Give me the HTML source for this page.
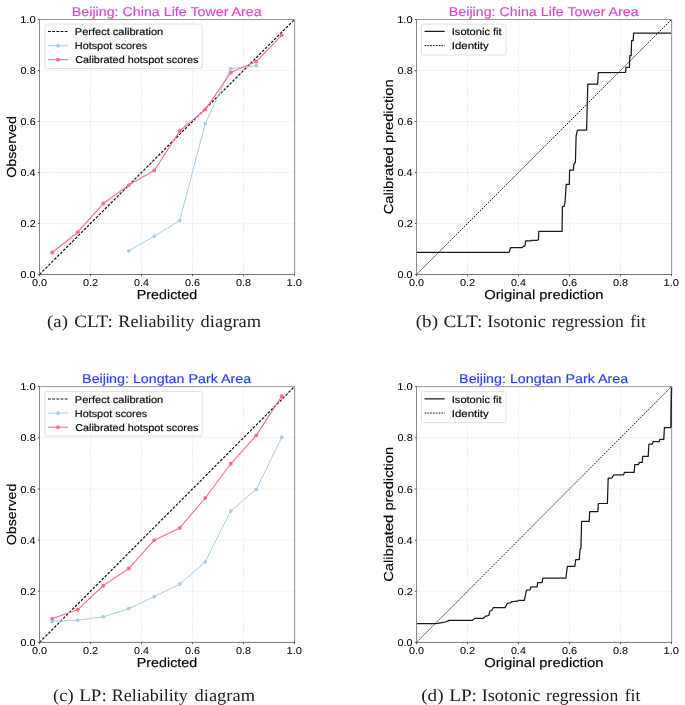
<!DOCTYPE html>
<html><head><meta charset="utf-8"><title>Calibration figure</title>
<style>html,body{margin:0;padding:0;background:#fff;width:685px;height:705px;overflow:hidden}svg{display:block}</style>
</head><body>
<svg width="685" height="705" viewBox="0 0 685 705" style="will-change:transform;text-rendering:geometricPrecision">
<rect width="685" height="705" fill="#fff"/>
<line x1="90.5" y1="19.5" x2="90.5" y2="274.5" stroke="#e4e4e4" stroke-width="0.8" stroke-dasharray="1.3,1.05"/>
<line x1="39.5" y1="223.5" x2="294.5" y2="223.5" stroke="#e4e4e4" stroke-width="0.8" stroke-dasharray="1.3,1.05"/>
<line x1="141.5" y1="19.5" x2="141.5" y2="274.5" stroke="#e4e4e4" stroke-width="0.8" stroke-dasharray="1.3,1.05"/>
<line x1="39.5" y1="172.5" x2="294.5" y2="172.5" stroke="#e4e4e4" stroke-width="0.8" stroke-dasharray="1.3,1.05"/>
<line x1="192.5" y1="19.5" x2="192.5" y2="274.5" stroke="#e4e4e4" stroke-width="0.8" stroke-dasharray="1.3,1.05"/>
<line x1="39.5" y1="121.5" x2="294.5" y2="121.5" stroke="#e4e4e4" stroke-width="0.8" stroke-dasharray="1.3,1.05"/>
<line x1="243.5" y1="19.5" x2="243.5" y2="274.5" stroke="#e4e4e4" stroke-width="0.8" stroke-dasharray="1.3,1.05"/>
<line x1="39.5" y1="70.5" x2="294.5" y2="70.5" stroke="#e4e4e4" stroke-width="0.8" stroke-dasharray="1.3,1.05"/>
<line x1="39.5" y1="274.5" x2="294.5" y2="19.5" stroke="#111" stroke-width="1.2" stroke-dasharray="2.7,1.5"/>
<polyline points="128.75,250.79 154.25,236.2 179.75,220.6 205.25,123.6 230.75,68.77 256.25,65.71" fill="none" stroke="#a5cde3" stroke-width="1" stroke-linejoin="round"/>
<circle cx="128.75" cy="250.79" r="1.9" fill="#a5cde3"/>
<circle cx="154.25" cy="236.2" r="1.9" fill="#a5cde3"/>
<circle cx="179.75" cy="220.6" r="1.9" fill="#a5cde3"/>
<circle cx="205.25" cy="123.6" r="1.9" fill="#a5cde3"/>
<circle cx="230.75" cy="68.77" r="1.9" fill="#a5cde3"/>
<circle cx="256.25" cy="65.71" r="1.9" fill="#a5cde3"/>
<polyline points="52.25,252.5 77.75,232.23 103.25,203.51 128.75,185.1 154.25,170.52 179.75,130.99 205.25,109.57 230.75,72.59 256.25,61.63 281.75,35.11" fill="none" stroke="#fb6b90" stroke-width="1.1" stroke-linejoin="round"/>
<circle cx="52.25" cy="252.5" r="1.95" fill="#fb6b90"/>
<circle cx="77.75" cy="232.23" r="1.95" fill="#fb6b90"/>
<circle cx="103.25" cy="203.51" r="1.95" fill="#fb6b90"/>
<circle cx="128.75" cy="185.1" r="1.95" fill="#fb6b90"/>
<circle cx="154.25" cy="170.52" r="1.95" fill="#fb6b90"/>
<circle cx="179.75" cy="130.99" r="1.95" fill="#fb6b90"/>
<circle cx="205.25" cy="109.57" r="1.95" fill="#fb6b90"/>
<circle cx="230.75" cy="72.59" r="1.95" fill="#fb6b90"/>
<circle cx="256.25" cy="61.63" r="1.95" fill="#fb6b90"/>
<circle cx="281.75" cy="35.11" r="1.95" fill="#fb6b90"/>
<rect x="44.9" y="24" width="157.2" height="44.6" rx="2" fill="#fff" fill-opacity="0.8" stroke="#d9d9d9" stroke-width="0.8"/>
<line x1="48" y1="31.5" x2="68.2" y2="31.5" stroke="#111" stroke-width="1.05" stroke-dasharray="2.8,1.4"/>
<line x1="48" y1="45.7" x2="68" y2="45.7" stroke="#a5cde3" stroke-width="1"/>
<circle cx="58" cy="45.7" r="1.9" fill="#a5cde3"/>
<line x1="48" y1="59.7" x2="68" y2="59.7" stroke="#fb6b90" stroke-width="1.1"/>
<circle cx="58" cy="59.7" r="1.95" fill="#fb6b90"/>
<text x="74.79" y="35.2" font-size="9.9" fill="#000" text-anchor="start" font-family='"Liberation Sans", sans-serif' textLength="88.42" lengthAdjust="spacingAndGlyphs" stroke="#000" stroke-width="0.15">Perfect calibration</text>
<text x="74.81" y="49.3" font-size="9.9" fill="#000" text-anchor="start" font-family='"Liberation Sans", sans-serif' textLength="72.38" lengthAdjust="spacingAndGlyphs" stroke="#000" stroke-width="0.15">Hotspot scores</text>
<text x="75.15" y="63.4" font-size="9.9" fill="#000" text-anchor="start" font-family='"Liberation Sans", sans-serif' textLength="123.24" lengthAdjust="spacingAndGlyphs" stroke="#000" stroke-width="0.15">Calibrated hotspot scores</text>
<line x1="39.5" y1="19" x2="39.5" y2="275" stroke="#888" stroke-width="1"/>
<line x1="294.6" y1="19" x2="294.6" y2="275" stroke="#999" stroke-width="1.1"/>
<line x1="39" y1="19.5" x2="295.1" y2="19.5" stroke="#999" stroke-width="1"/>
<line x1="39" y1="274.5" x2="295.1" y2="274.5" stroke="#777" stroke-width="1"/>
<line x1="39.5" y1="274.5" x2="39.5" y2="276.2" stroke="#333" stroke-width="0.8"/>
<line x1="37.8" y1="274.5" x2="39.5" y2="274.5" stroke="#333" stroke-width="0.8"/>
<text x="31.98" y="285.8" font-size="10" fill="#000" text-anchor="start" font-family='"Liberation Sans", sans-serif' textLength="15.05" lengthAdjust="spacingAndGlyphs" stroke="#000" stroke-width="0.05" text-rendering="geometricPrecision">0.0</text>
<text x="20.58" y="278.1" font-size="10" fill="#000" text-anchor="start" font-family='"Liberation Sans", sans-serif' textLength="15.05" lengthAdjust="spacingAndGlyphs" stroke="#000" stroke-width="0.05" text-rendering="geometricPrecision">0.0</text>
<line x1="90.5" y1="274.5" x2="90.5" y2="276.2" stroke="#333" stroke-width="0.8"/>
<line x1="37.8" y1="223.5" x2="39.5" y2="223.5" stroke="#333" stroke-width="0.8"/>
<text x="82.97" y="285.8" font-size="10" fill="#000" text-anchor="start" font-family='"Liberation Sans", sans-serif' textLength="15.18" lengthAdjust="spacingAndGlyphs" stroke="#000" stroke-width="0.05" text-rendering="geometricPrecision">0.2</text>
<text x="20.57" y="227.1" font-size="10" fill="#000" text-anchor="start" font-family='"Liberation Sans", sans-serif' textLength="15.18" lengthAdjust="spacingAndGlyphs" stroke="#000" stroke-width="0.05" text-rendering="geometricPrecision">0.2</text>
<line x1="141.5" y1="274.5" x2="141.5" y2="276.2" stroke="#333" stroke-width="0.8"/>
<line x1="37.8" y1="172.5" x2="39.5" y2="172.5" stroke="#333" stroke-width="0.8"/>
<text x="133.98" y="285.8" font-size="10" fill="#000" text-anchor="start" font-family='"Liberation Sans", sans-serif' textLength="14.93" lengthAdjust="spacingAndGlyphs" stroke="#000" stroke-width="0.05" text-rendering="geometricPrecision">0.4</text>
<text x="20.58" y="176.1" font-size="10" fill="#000" text-anchor="start" font-family='"Liberation Sans", sans-serif' textLength="14.93" lengthAdjust="spacingAndGlyphs" stroke="#000" stroke-width="0.05" text-rendering="geometricPrecision">0.4</text>
<line x1="192.5" y1="274.5" x2="192.5" y2="276.2" stroke="#333" stroke-width="0.8"/>
<line x1="37.8" y1="121.5" x2="39.5" y2="121.5" stroke="#333" stroke-width="0.8"/>
<text x="184.98" y="285.8" font-size="10" fill="#000" text-anchor="start" font-family='"Liberation Sans", sans-serif' textLength="15.1" lengthAdjust="spacingAndGlyphs" stroke="#000" stroke-width="0.05" text-rendering="geometricPrecision">0.6</text>
<text x="20.58" y="125.1" font-size="10" fill="#000" text-anchor="start" font-family='"Liberation Sans", sans-serif' textLength="15.1" lengthAdjust="spacingAndGlyphs" stroke="#000" stroke-width="0.05" text-rendering="geometricPrecision">0.6</text>
<line x1="243.5" y1="274.5" x2="243.5" y2="276.2" stroke="#333" stroke-width="0.8"/>
<line x1="37.8" y1="70.5" x2="39.5" y2="70.5" stroke="#333" stroke-width="0.8"/>
<text x="235.98" y="285.8" font-size="10" fill="#000" text-anchor="start" font-family='"Liberation Sans", sans-serif' textLength="15.1" lengthAdjust="spacingAndGlyphs" stroke="#000" stroke-width="0.05" text-rendering="geometricPrecision">0.8</text>
<text x="20.58" y="74.1" font-size="10" fill="#000" text-anchor="start" font-family='"Liberation Sans", sans-serif' textLength="15.1" lengthAdjust="spacingAndGlyphs" stroke="#000" stroke-width="0.05" text-rendering="geometricPrecision">0.8</text>
<line x1="294.5" y1="274.5" x2="294.5" y2="276.2" stroke="#333" stroke-width="0.8"/>
<line x1="37.8" y1="19.5" x2="39.5" y2="19.5" stroke="#333" stroke-width="0.8"/>
<text x="286.55" y="285.8" font-size="10" fill="#000" text-anchor="start" font-family='"Liberation Sans", sans-serif' textLength="15.48" lengthAdjust="spacingAndGlyphs" stroke="#000" stroke-width="0.05" text-rendering="geometricPrecision">1.0</text>
<text x="20.15" y="23.1" font-size="10" fill="#000" text-anchor="start" font-family='"Liberation Sans", sans-serif' textLength="15.48" lengthAdjust="spacingAndGlyphs" stroke="#000" stroke-width="0.05" text-rendering="geometricPrecision">1.0</text>
<text x="71.85" y="15.5" font-size="12.7" fill="#dc46cf" text-anchor="start" font-family='"Liberation Sans", sans-serif' textLength="189.85" lengthAdjust="spacingAndGlyphs" stroke="#dc46cf" stroke-width="0.15">Beijing: China Life Tower Area</text>
<text x="136.83" y="299.3" font-size="13" fill="#000" text-anchor="start" font-family='"Liberation Sans", sans-serif' textLength="60.29" lengthAdjust="spacingAndGlyphs" stroke="#000" stroke-width="0.15">Predicted</text>
<text x="-0.67" y="0" font-size="13" fill="#000" stroke="#000" stroke-width="0.15" font-family='"Liberation Sans", sans-serif' textLength="61.69" lengthAdjust="spacingAndGlyphs" transform="translate(16.2,177.1) rotate(-90)">Observed</text>
<line x1="467.5" y1="19.5" x2="467.5" y2="274.5" stroke="#e4e4e4" stroke-width="0.8" stroke-dasharray="1.3,1.05"/>
<line x1="416.5" y1="223.5" x2="671.5" y2="223.5" stroke="#e4e4e4" stroke-width="0.8" stroke-dasharray="1.3,1.05"/>
<line x1="518.5" y1="19.5" x2="518.5" y2="274.5" stroke="#e4e4e4" stroke-width="0.8" stroke-dasharray="1.3,1.05"/>
<line x1="416.5" y1="172.5" x2="671.5" y2="172.5" stroke="#e4e4e4" stroke-width="0.8" stroke-dasharray="1.3,1.05"/>
<line x1="569.5" y1="19.5" x2="569.5" y2="274.5" stroke="#e4e4e4" stroke-width="0.8" stroke-dasharray="1.3,1.05"/>
<line x1="416.5" y1="121.5" x2="671.5" y2="121.5" stroke="#e4e4e4" stroke-width="0.8" stroke-dasharray="1.3,1.05"/>
<line x1="620.5" y1="19.5" x2="620.5" y2="274.5" stroke="#e4e4e4" stroke-width="0.8" stroke-dasharray="1.3,1.05"/>
<line x1="416.5" y1="70.5" x2="671.5" y2="70.5" stroke="#e4e4e4" stroke-width="0.8" stroke-dasharray="1.3,1.05"/>
<line x1="416.5" y1="274.5" x2="671.5" y2="19.5" stroke="#111" stroke-width="0.95" stroke-dasharray="1.7,1.1"/>
<polyline points="416.5,252.3 509.1,252.3 510.7,247.5 522.2,247.5 523.9,246.1 524.9,246.1 525.7,240.9 531.3,240.9 531.5,240.3 537.4,240.3 538.5,239.5 538.8,231.3 562.1,231.3 562.4,206.6 564,206.5 565,202.3 566.2,184.4 569.3,184.4 569.6,170 573.3,170 573.8,164.6 575.4,162.1 576.1,135.9 577.4,130.2 586.6,130.2 587.8,84 597.6,84 598.3,72.6 625.5,72.5 626,67.4 629.4,67.4 629.9,55.5 631.2,55.5 631.6,40.6 633.2,40.6 633.6,33.1 671.5,33.1" fill="none" stroke="#1a1a1a" stroke-width="1.25" stroke-linejoin="round"/>
<rect x="421.4" y="24.1" width="84.6" height="31" rx="2" fill="#fff" fill-opacity="0.8" stroke="#d9d9d9" stroke-width="0.8"/>
<line x1="424.6" y1="31.4" x2="444.7" y2="31.4" stroke="#1a1a1a" stroke-width="1.25"/>
<line x1="424.6" y1="45.6" x2="444.7" y2="45.6" stroke="#111" stroke-width="0.95" stroke-dasharray="1.7,1.1"/>
<text x="451.78" y="35.1" font-size="9.9" fill="#000" text-anchor="start" font-family='"Liberation Sans", sans-serif' textLength="49.9" lengthAdjust="spacingAndGlyphs" stroke="#000" stroke-width="0.15">Isotonic fit</text>
<text x="451.74" y="49.2" font-size="9.9" fill="#000" text-anchor="start" font-family='"Liberation Sans", sans-serif' textLength="36.98" lengthAdjust="spacingAndGlyphs" stroke="#000" stroke-width="0.15">Identity</text>
<line x1="416.5" y1="19" x2="416.5" y2="275" stroke="#888" stroke-width="1"/>
<line x1="671.6" y1="19" x2="671.6" y2="275" stroke="#999" stroke-width="1.1"/>
<line x1="416" y1="19.5" x2="672.1" y2="19.5" stroke="#999" stroke-width="1"/>
<line x1="416" y1="274.5" x2="672.1" y2="274.5" stroke="#777" stroke-width="1"/>
<line x1="416.5" y1="274.5" x2="416.5" y2="276.2" stroke="#333" stroke-width="0.8"/>
<line x1="414.8" y1="274.5" x2="416.5" y2="274.5" stroke="#333" stroke-width="0.8"/>
<text x="408.98" y="285.8" font-size="10" fill="#000" text-anchor="start" font-family='"Liberation Sans", sans-serif' textLength="15.05" lengthAdjust="spacingAndGlyphs" stroke="#000" stroke-width="0.05" text-rendering="geometricPrecision">0.0</text>
<text x="397.58" y="278.1" font-size="10" fill="#000" text-anchor="start" font-family='"Liberation Sans", sans-serif' textLength="15.05" lengthAdjust="spacingAndGlyphs" stroke="#000" stroke-width="0.05" text-rendering="geometricPrecision">0.0</text>
<line x1="467.5" y1="274.5" x2="467.5" y2="276.2" stroke="#333" stroke-width="0.8"/>
<line x1="414.8" y1="223.5" x2="416.5" y2="223.5" stroke="#333" stroke-width="0.8"/>
<text x="459.97" y="285.8" font-size="10" fill="#000" text-anchor="start" font-family='"Liberation Sans", sans-serif' textLength="15.18" lengthAdjust="spacingAndGlyphs" stroke="#000" stroke-width="0.05" text-rendering="geometricPrecision">0.2</text>
<text x="397.57" y="227.1" font-size="10" fill="#000" text-anchor="start" font-family='"Liberation Sans", sans-serif' textLength="15.18" lengthAdjust="spacingAndGlyphs" stroke="#000" stroke-width="0.05" text-rendering="geometricPrecision">0.2</text>
<line x1="518.5" y1="274.5" x2="518.5" y2="276.2" stroke="#333" stroke-width="0.8"/>
<line x1="414.8" y1="172.5" x2="416.5" y2="172.5" stroke="#333" stroke-width="0.8"/>
<text x="510.98" y="285.8" font-size="10" fill="#000" text-anchor="start" font-family='"Liberation Sans", sans-serif' textLength="14.93" lengthAdjust="spacingAndGlyphs" stroke="#000" stroke-width="0.05" text-rendering="geometricPrecision">0.4</text>
<text x="397.58" y="176.1" font-size="10" fill="#000" text-anchor="start" font-family='"Liberation Sans", sans-serif' textLength="14.93" lengthAdjust="spacingAndGlyphs" stroke="#000" stroke-width="0.05" text-rendering="geometricPrecision">0.4</text>
<line x1="569.5" y1="274.5" x2="569.5" y2="276.2" stroke="#333" stroke-width="0.8"/>
<line x1="414.8" y1="121.5" x2="416.5" y2="121.5" stroke="#333" stroke-width="0.8"/>
<text x="561.98" y="285.8" font-size="10" fill="#000" text-anchor="start" font-family='"Liberation Sans", sans-serif' textLength="15.1" lengthAdjust="spacingAndGlyphs" stroke="#000" stroke-width="0.05" text-rendering="geometricPrecision">0.6</text>
<text x="397.58" y="125.1" font-size="10" fill="#000" text-anchor="start" font-family='"Liberation Sans", sans-serif' textLength="15.1" lengthAdjust="spacingAndGlyphs" stroke="#000" stroke-width="0.05" text-rendering="geometricPrecision">0.6</text>
<line x1="620.5" y1="274.5" x2="620.5" y2="276.2" stroke="#333" stroke-width="0.8"/>
<line x1="414.8" y1="70.5" x2="416.5" y2="70.5" stroke="#333" stroke-width="0.8"/>
<text x="612.98" y="285.8" font-size="10" fill="#000" text-anchor="start" font-family='"Liberation Sans", sans-serif' textLength="15.1" lengthAdjust="spacingAndGlyphs" stroke="#000" stroke-width="0.05" text-rendering="geometricPrecision">0.8</text>
<text x="397.58" y="74.1" font-size="10" fill="#000" text-anchor="start" font-family='"Liberation Sans", sans-serif' textLength="15.1" lengthAdjust="spacingAndGlyphs" stroke="#000" stroke-width="0.05" text-rendering="geometricPrecision">0.8</text>
<line x1="671.5" y1="274.5" x2="671.5" y2="276.2" stroke="#333" stroke-width="0.8"/>
<line x1="414.8" y1="19.5" x2="416.5" y2="19.5" stroke="#333" stroke-width="0.8"/>
<text x="663.55" y="285.8" font-size="10" fill="#000" text-anchor="start" font-family='"Liberation Sans", sans-serif' textLength="15.48" lengthAdjust="spacingAndGlyphs" stroke="#000" stroke-width="0.05" text-rendering="geometricPrecision">1.0</text>
<text x="397.15" y="23.1" font-size="10" fill="#000" text-anchor="start" font-family='"Liberation Sans", sans-serif' textLength="15.48" lengthAdjust="spacingAndGlyphs" stroke="#000" stroke-width="0.05" text-rendering="geometricPrecision">1.0</text>
<text x="448.85" y="15.5" font-size="12.7" fill="#dc46cf" text-anchor="start" font-family='"Liberation Sans", sans-serif' textLength="189.85" lengthAdjust="spacingAndGlyphs" stroke="#dc46cf" stroke-width="0.15">Beijing: China Life Tower Area</text>
<text x="484.2" y="299.3" font-size="13" fill="#000" text-anchor="start" font-family='"Liberation Sans", sans-serif' textLength="119.26" lengthAdjust="spacingAndGlyphs" stroke="#000" stroke-width="0.15">Original prediction</text>
<text x="-0.75" y="0" font-size="13" fill="#000" stroke="#000" stroke-width="0.15" font-family='"Liberation Sans", sans-serif' textLength="135.1" lengthAdjust="spacingAndGlyphs" transform="translate(392.8,213.6) rotate(-90)">Calibrated prediction</text>
<line x1="90.5" y1="386.6" x2="90.5" y2="642.4" stroke="#e4e4e4" stroke-width="0.8" stroke-dasharray="1.3,1.05"/>
<line x1="39.5" y1="591.24" x2="294.5" y2="591.24" stroke="#e4e4e4" stroke-width="0.8" stroke-dasharray="1.3,1.05"/>
<line x1="141.5" y1="386.6" x2="141.5" y2="642.4" stroke="#e4e4e4" stroke-width="0.8" stroke-dasharray="1.3,1.05"/>
<line x1="39.5" y1="540.08" x2="294.5" y2="540.08" stroke="#e4e4e4" stroke-width="0.8" stroke-dasharray="1.3,1.05"/>
<line x1="192.5" y1="386.6" x2="192.5" y2="642.4" stroke="#e4e4e4" stroke-width="0.8" stroke-dasharray="1.3,1.05"/>
<line x1="39.5" y1="488.92" x2="294.5" y2="488.92" stroke="#e4e4e4" stroke-width="0.8" stroke-dasharray="1.3,1.05"/>
<line x1="243.5" y1="386.6" x2="243.5" y2="642.4" stroke="#e4e4e4" stroke-width="0.8" stroke-dasharray="1.3,1.05"/>
<line x1="39.5" y1="437.76" x2="294.5" y2="437.76" stroke="#e4e4e4" stroke-width="0.8" stroke-dasharray="1.3,1.05"/>
<line x1="39.5" y1="642.4" x2="294.5" y2="386.6" stroke="#111" stroke-width="1.2" stroke-dasharray="2.7,1.5"/>
<polyline points="52.25,621.4 77.75,620.13 103.25,616.81 128.75,608.63 154.25,596.62 179.75,584.1 205.25,561.87 230.75,511.03 256.25,489.31 281.75,437.44" fill="none" stroke="#a5cde3" stroke-width="1" stroke-linejoin="round"/>
<circle cx="52.25" cy="621.4" r="1.9" fill="#a5cde3"/>
<circle cx="77.75" cy="620.13" r="1.9" fill="#a5cde3"/>
<circle cx="103.25" cy="616.81" r="1.9" fill="#a5cde3"/>
<circle cx="128.75" cy="608.63" r="1.9" fill="#a5cde3"/>
<circle cx="154.25" cy="596.62" r="1.9" fill="#a5cde3"/>
<circle cx="179.75" cy="584.1" r="1.9" fill="#a5cde3"/>
<circle cx="205.25" cy="561.87" r="1.9" fill="#a5cde3"/>
<circle cx="230.75" cy="511.03" r="1.9" fill="#a5cde3"/>
<circle cx="256.25" cy="489.31" r="1.9" fill="#a5cde3"/>
<circle cx="281.75" cy="437.44" r="1.9" fill="#a5cde3"/>
<polyline points="52.25,618.59 77.75,609.65 103.25,585.63 128.75,568.52 154.25,540.16 179.75,527.89 205.25,498 230.75,463.76 256.25,435.4 281.75,396.31" fill="none" stroke="#fb6b90" stroke-width="1.1" stroke-linejoin="round"/>
<circle cx="52.25" cy="618.59" r="1.95" fill="#fb6b90"/>
<circle cx="77.75" cy="609.65" r="1.95" fill="#fb6b90"/>
<circle cx="103.25" cy="585.63" r="1.95" fill="#fb6b90"/>
<circle cx="128.75" cy="568.52" r="1.95" fill="#fb6b90"/>
<circle cx="154.25" cy="540.16" r="1.95" fill="#fb6b90"/>
<circle cx="179.75" cy="527.89" r="1.95" fill="#fb6b90"/>
<circle cx="205.25" cy="498" r="1.95" fill="#fb6b90"/>
<circle cx="230.75" cy="463.76" r="1.95" fill="#fb6b90"/>
<circle cx="256.25" cy="435.4" r="1.95" fill="#fb6b90"/>
<circle cx="281.75" cy="396.31" r="1.95" fill="#fb6b90"/>
<rect x="44.9" y="391.45" width="157.2" height="44.6" rx="2" fill="#fff" fill-opacity="0.8" stroke="#d9d9d9" stroke-width="0.8"/>
<line x1="48" y1="398.95" x2="68.2" y2="398.95" stroke="#111" stroke-width="1.05" stroke-dasharray="2.8,1.4"/>
<line x1="48" y1="413.15" x2="68" y2="413.15" stroke="#a5cde3" stroke-width="1"/>
<circle cx="58" cy="413.15" r="1.9" fill="#a5cde3"/>
<line x1="48" y1="427.15" x2="68" y2="427.15" stroke="#fb6b90" stroke-width="1.1"/>
<circle cx="58" cy="427.15" r="1.95" fill="#fb6b90"/>
<text x="74.79" y="402.65" font-size="9.9" fill="#000" text-anchor="start" font-family='"Liberation Sans", sans-serif' textLength="88.42" lengthAdjust="spacingAndGlyphs" stroke="#000" stroke-width="0.15">Perfect calibration</text>
<text x="74.81" y="416.75" font-size="9.9" fill="#000" text-anchor="start" font-family='"Liberation Sans", sans-serif' textLength="72.38" lengthAdjust="spacingAndGlyphs" stroke="#000" stroke-width="0.15">Hotspot scores</text>
<text x="75.15" y="430.85" font-size="9.9" fill="#000" text-anchor="start" font-family='"Liberation Sans", sans-serif' textLength="123.24" lengthAdjust="spacingAndGlyphs" stroke="#000" stroke-width="0.15">Calibrated hotspot scores</text>
<line x1="39.5" y1="386.1" x2="39.5" y2="642.9" stroke="#888" stroke-width="1"/>
<line x1="294.6" y1="386.1" x2="294.6" y2="642.9" stroke="#999" stroke-width="1.1"/>
<line x1="39" y1="386.6" x2="295.1" y2="386.6" stroke="#999" stroke-width="1"/>
<line x1="39" y1="642.4" x2="295.1" y2="642.4" stroke="#777" stroke-width="1"/>
<line x1="39.5" y1="642.4" x2="39.5" y2="644.1" stroke="#333" stroke-width="0.8"/>
<line x1="37.8" y1="642.4" x2="39.5" y2="642.4" stroke="#333" stroke-width="0.8"/>
<text x="31.98" y="653.7" font-size="10" fill="#000" text-anchor="start" font-family='"Liberation Sans", sans-serif' textLength="15.05" lengthAdjust="spacingAndGlyphs" stroke="#000" stroke-width="0.05" text-rendering="geometricPrecision">0.0</text>
<text x="20.58" y="646" font-size="10" fill="#000" text-anchor="start" font-family='"Liberation Sans", sans-serif' textLength="15.05" lengthAdjust="spacingAndGlyphs" stroke="#000" stroke-width="0.05" text-rendering="geometricPrecision">0.0</text>
<line x1="90.5" y1="642.4" x2="90.5" y2="644.1" stroke="#333" stroke-width="0.8"/>
<line x1="37.8" y1="591.24" x2="39.5" y2="591.24" stroke="#333" stroke-width="0.8"/>
<text x="82.97" y="653.7" font-size="10" fill="#000" text-anchor="start" font-family='"Liberation Sans", sans-serif' textLength="15.18" lengthAdjust="spacingAndGlyphs" stroke="#000" stroke-width="0.05" text-rendering="geometricPrecision">0.2</text>
<text x="20.57" y="594.84" font-size="10" fill="#000" text-anchor="start" font-family='"Liberation Sans", sans-serif' textLength="15.18" lengthAdjust="spacingAndGlyphs" stroke="#000" stroke-width="0.05" text-rendering="geometricPrecision">0.2</text>
<line x1="141.5" y1="642.4" x2="141.5" y2="644.1" stroke="#333" stroke-width="0.8"/>
<line x1="37.8" y1="540.08" x2="39.5" y2="540.08" stroke="#333" stroke-width="0.8"/>
<text x="133.98" y="653.7" font-size="10" fill="#000" text-anchor="start" font-family='"Liberation Sans", sans-serif' textLength="14.93" lengthAdjust="spacingAndGlyphs" stroke="#000" stroke-width="0.05" text-rendering="geometricPrecision">0.4</text>
<text x="20.58" y="543.68" font-size="10" fill="#000" text-anchor="start" font-family='"Liberation Sans", sans-serif' textLength="14.93" lengthAdjust="spacingAndGlyphs" stroke="#000" stroke-width="0.05" text-rendering="geometricPrecision">0.4</text>
<line x1="192.5" y1="642.4" x2="192.5" y2="644.1" stroke="#333" stroke-width="0.8"/>
<line x1="37.8" y1="488.92" x2="39.5" y2="488.92" stroke="#333" stroke-width="0.8"/>
<text x="184.98" y="653.7" font-size="10" fill="#000" text-anchor="start" font-family='"Liberation Sans", sans-serif' textLength="15.1" lengthAdjust="spacingAndGlyphs" stroke="#000" stroke-width="0.05" text-rendering="geometricPrecision">0.6</text>
<text x="20.58" y="492.52" font-size="10" fill="#000" text-anchor="start" font-family='"Liberation Sans", sans-serif' textLength="15.1" lengthAdjust="spacingAndGlyphs" stroke="#000" stroke-width="0.05" text-rendering="geometricPrecision">0.6</text>
<line x1="243.5" y1="642.4" x2="243.5" y2="644.1" stroke="#333" stroke-width="0.8"/>
<line x1="37.8" y1="437.76" x2="39.5" y2="437.76" stroke="#333" stroke-width="0.8"/>
<text x="235.98" y="653.7" font-size="10" fill="#000" text-anchor="start" font-family='"Liberation Sans", sans-serif' textLength="15.1" lengthAdjust="spacingAndGlyphs" stroke="#000" stroke-width="0.05" text-rendering="geometricPrecision">0.8</text>
<text x="20.58" y="441.36" font-size="10" fill="#000" text-anchor="start" font-family='"Liberation Sans", sans-serif' textLength="15.1" lengthAdjust="spacingAndGlyphs" stroke="#000" stroke-width="0.05" text-rendering="geometricPrecision">0.8</text>
<line x1="294.5" y1="642.4" x2="294.5" y2="644.1" stroke="#333" stroke-width="0.8"/>
<line x1="37.8" y1="386.6" x2="39.5" y2="386.6" stroke="#333" stroke-width="0.8"/>
<text x="286.55" y="653.7" font-size="10" fill="#000" text-anchor="start" font-family='"Liberation Sans", sans-serif' textLength="15.48" lengthAdjust="spacingAndGlyphs" stroke="#000" stroke-width="0.05" text-rendering="geometricPrecision">1.0</text>
<text x="20.15" y="390.2" font-size="10" fill="#000" text-anchor="start" font-family='"Liberation Sans", sans-serif' textLength="15.48" lengthAdjust="spacingAndGlyphs" stroke="#000" stroke-width="0.05" text-rendering="geometricPrecision">1.0</text>
<text x="82.13" y="383.2" font-size="12.7" fill="#2341f7" text-anchor="start" font-family='"Liberation Sans", sans-serif' textLength="168.97" lengthAdjust="spacingAndGlyphs" stroke="#2341f7" stroke-width="0.15">Beijing: Longtan Park Area</text>
<text x="136.83" y="667.2" font-size="13" fill="#000" text-anchor="start" font-family='"Liberation Sans", sans-serif' textLength="60.29" lengthAdjust="spacingAndGlyphs" stroke="#000" stroke-width="0.15">Predicted</text>
<text x="-0.67" y="0" font-size="13" fill="#000" stroke="#000" stroke-width="0.15" font-family='"Liberation Sans", sans-serif' textLength="61.69" lengthAdjust="spacingAndGlyphs" transform="translate(16.2,544.6) rotate(-90)">Observed</text>
<line x1="467.5" y1="386.6" x2="467.5" y2="642.4" stroke="#e4e4e4" stroke-width="0.8" stroke-dasharray="1.3,1.05"/>
<line x1="416.5" y1="591.24" x2="671.5" y2="591.24" stroke="#e4e4e4" stroke-width="0.8" stroke-dasharray="1.3,1.05"/>
<line x1="518.5" y1="386.6" x2="518.5" y2="642.4" stroke="#e4e4e4" stroke-width="0.8" stroke-dasharray="1.3,1.05"/>
<line x1="416.5" y1="540.08" x2="671.5" y2="540.08" stroke="#e4e4e4" stroke-width="0.8" stroke-dasharray="1.3,1.05"/>
<line x1="569.5" y1="386.6" x2="569.5" y2="642.4" stroke="#e4e4e4" stroke-width="0.8" stroke-dasharray="1.3,1.05"/>
<line x1="416.5" y1="488.92" x2="671.5" y2="488.92" stroke="#e4e4e4" stroke-width="0.8" stroke-dasharray="1.3,1.05"/>
<line x1="620.5" y1="386.6" x2="620.5" y2="642.4" stroke="#e4e4e4" stroke-width="0.8" stroke-dasharray="1.3,1.05"/>
<line x1="416.5" y1="437.76" x2="671.5" y2="437.76" stroke="#e4e4e4" stroke-width="0.8" stroke-dasharray="1.3,1.05"/>
<line x1="416.5" y1="642.4" x2="671.5" y2="386.6" stroke="#111" stroke-width="0.95" stroke-dasharray="1.7,1.1"/>
<polyline points="416.5,623.6 435,623.6 437.4,623.4 442,622.6 445.5,622 447.9,621.1 449,620.4 472.4,620.4 474.7,618.4 482.9,618.4 485.3,616.4 487,615.8 488.8,615.5 489.9,610.8 491.7,610.5 493.4,607.6 505.1,607.6 507.4,603.3 509.8,603 512.1,601.6 517.4,601.2 518.5,600.4 524.4,600.4 525,597.1 526.5,590.1 530.2,589.9 530.8,586.8 537.2,586.8 537.6,582.5 542.2,582.5 542.7,578.1 565.9,578 567.4,566.4 574.8,566.4 575.8,559.5 579.3,559.5 580.1,549.1 580.9,548.5 581.6,521.4 589.2,521.4 589.7,511.5 597.8,511.5 598.4,503.5 607.4,503.4 608.2,478 612,478 613.7,474.8 623.5,474.8 624.6,472.3 634.2,472.3 634.8,464.6 638.3,464.6 639.4,462.4 642.2,462.4 642.7,456.4 648.2,456.4 648.9,444.2 652.2,444.2 653.2,441.6 659.3,441.6 659.8,439.4 663.8,439.4 664.4,427.5 671,427.5 671.5,387.5" fill="none" stroke="#1a1a1a" stroke-width="1.25" stroke-linejoin="round"/>
<rect x="421.4" y="391.55" width="84.6" height="31" rx="2" fill="#fff" fill-opacity="0.8" stroke="#d9d9d9" stroke-width="0.8"/>
<line x1="424.6" y1="398.85" x2="444.7" y2="398.85" stroke="#1a1a1a" stroke-width="1.25"/>
<line x1="424.6" y1="413.05" x2="444.7" y2="413.05" stroke="#111" stroke-width="0.95" stroke-dasharray="1.7,1.1"/>
<text x="451.78" y="402.55" font-size="9.9" fill="#000" text-anchor="start" font-family='"Liberation Sans", sans-serif' textLength="49.9" lengthAdjust="spacingAndGlyphs" stroke="#000" stroke-width="0.15">Isotonic fit</text>
<text x="451.74" y="416.65" font-size="9.9" fill="#000" text-anchor="start" font-family='"Liberation Sans", sans-serif' textLength="36.98" lengthAdjust="spacingAndGlyphs" stroke="#000" stroke-width="0.15">Identity</text>
<line x1="416.5" y1="386.1" x2="416.5" y2="642.9" stroke="#888" stroke-width="1"/>
<line x1="671.6" y1="386.1" x2="671.6" y2="642.9" stroke="#999" stroke-width="1.1"/>
<line x1="416" y1="386.6" x2="672.1" y2="386.6" stroke="#999" stroke-width="1"/>
<line x1="416" y1="642.4" x2="672.1" y2="642.4" stroke="#777" stroke-width="1"/>
<line x1="416.5" y1="642.4" x2="416.5" y2="644.1" stroke="#333" stroke-width="0.8"/>
<line x1="414.8" y1="642.4" x2="416.5" y2="642.4" stroke="#333" stroke-width="0.8"/>
<text x="408.98" y="653.7" font-size="10" fill="#000" text-anchor="start" font-family='"Liberation Sans", sans-serif' textLength="15.05" lengthAdjust="spacingAndGlyphs" stroke="#000" stroke-width="0.05" text-rendering="geometricPrecision">0.0</text>
<text x="397.58" y="646" font-size="10" fill="#000" text-anchor="start" font-family='"Liberation Sans", sans-serif' textLength="15.05" lengthAdjust="spacingAndGlyphs" stroke="#000" stroke-width="0.05" text-rendering="geometricPrecision">0.0</text>
<line x1="467.5" y1="642.4" x2="467.5" y2="644.1" stroke="#333" stroke-width="0.8"/>
<line x1="414.8" y1="591.24" x2="416.5" y2="591.24" stroke="#333" stroke-width="0.8"/>
<text x="459.97" y="653.7" font-size="10" fill="#000" text-anchor="start" font-family='"Liberation Sans", sans-serif' textLength="15.18" lengthAdjust="spacingAndGlyphs" stroke="#000" stroke-width="0.05" text-rendering="geometricPrecision">0.2</text>
<text x="397.57" y="594.84" font-size="10" fill="#000" text-anchor="start" font-family='"Liberation Sans", sans-serif' textLength="15.18" lengthAdjust="spacingAndGlyphs" stroke="#000" stroke-width="0.05" text-rendering="geometricPrecision">0.2</text>
<line x1="518.5" y1="642.4" x2="518.5" y2="644.1" stroke="#333" stroke-width="0.8"/>
<line x1="414.8" y1="540.08" x2="416.5" y2="540.08" stroke="#333" stroke-width="0.8"/>
<text x="510.98" y="653.7" font-size="10" fill="#000" text-anchor="start" font-family='"Liberation Sans", sans-serif' textLength="14.93" lengthAdjust="spacingAndGlyphs" stroke="#000" stroke-width="0.05" text-rendering="geometricPrecision">0.4</text>
<text x="397.58" y="543.68" font-size="10" fill="#000" text-anchor="start" font-family='"Liberation Sans", sans-serif' textLength="14.93" lengthAdjust="spacingAndGlyphs" stroke="#000" stroke-width="0.05" text-rendering="geometricPrecision">0.4</text>
<line x1="569.5" y1="642.4" x2="569.5" y2="644.1" stroke="#333" stroke-width="0.8"/>
<line x1="414.8" y1="488.92" x2="416.5" y2="488.92" stroke="#333" stroke-width="0.8"/>
<text x="561.98" y="653.7" font-size="10" fill="#000" text-anchor="start" font-family='"Liberation Sans", sans-serif' textLength="15.1" lengthAdjust="spacingAndGlyphs" stroke="#000" stroke-width="0.05" text-rendering="geometricPrecision">0.6</text>
<text x="397.58" y="492.52" font-size="10" fill="#000" text-anchor="start" font-family='"Liberation Sans", sans-serif' textLength="15.1" lengthAdjust="spacingAndGlyphs" stroke="#000" stroke-width="0.05" text-rendering="geometricPrecision">0.6</text>
<line x1="620.5" y1="642.4" x2="620.5" y2="644.1" stroke="#333" stroke-width="0.8"/>
<line x1="414.8" y1="437.76" x2="416.5" y2="437.76" stroke="#333" stroke-width="0.8"/>
<text x="612.98" y="653.7" font-size="10" fill="#000" text-anchor="start" font-family='"Liberation Sans", sans-serif' textLength="15.1" lengthAdjust="spacingAndGlyphs" stroke="#000" stroke-width="0.05" text-rendering="geometricPrecision">0.8</text>
<text x="397.58" y="441.36" font-size="10" fill="#000" text-anchor="start" font-family='"Liberation Sans", sans-serif' textLength="15.1" lengthAdjust="spacingAndGlyphs" stroke="#000" stroke-width="0.05" text-rendering="geometricPrecision">0.8</text>
<line x1="671.5" y1="642.4" x2="671.5" y2="644.1" stroke="#333" stroke-width="0.8"/>
<line x1="414.8" y1="386.6" x2="416.5" y2="386.6" stroke="#333" stroke-width="0.8"/>
<text x="663.55" y="653.7" font-size="10" fill="#000" text-anchor="start" font-family='"Liberation Sans", sans-serif' textLength="15.48" lengthAdjust="spacingAndGlyphs" stroke="#000" stroke-width="0.05" text-rendering="geometricPrecision">1.0</text>
<text x="397.15" y="390.2" font-size="10" fill="#000" text-anchor="start" font-family='"Liberation Sans", sans-serif' textLength="15.48" lengthAdjust="spacingAndGlyphs" stroke="#000" stroke-width="0.05" text-rendering="geometricPrecision">1.0</text>
<polyline points="671,427.5 671.5,387.5" fill="none" stroke="#1a1a1a" stroke-width="1.25" stroke-linejoin="round"/>
<text x="459.13" y="383.2" font-size="12.7" fill="#2341f7" text-anchor="start" font-family='"Liberation Sans", sans-serif' textLength="168.97" lengthAdjust="spacingAndGlyphs" stroke="#2341f7" stroke-width="0.15">Beijing: Longtan Park Area</text>
<text x="484.2" y="667.2" font-size="13" fill="#000" text-anchor="start" font-family='"Liberation Sans", sans-serif' textLength="119.26" lengthAdjust="spacingAndGlyphs" stroke="#000" stroke-width="0.15">Original prediction</text>
<text x="-0.75" y="0" font-size="13" fill="#000" stroke="#000" stroke-width="0.15" font-family='"Liberation Sans", sans-serif' textLength="135.1" lengthAdjust="spacingAndGlyphs" transform="translate(392.8,581.1) rotate(-90)">Calibrated prediction</text>
<text x="47.07" y="326.7" font-size="17.4" fill="#1c1c1c" text-anchor="start" font-family='"Liberation Serif", serif' textLength="20.85" lengthAdjust="spacingAndGlyphs">(a)</text>
<text x="74.27" y="326.7" font-size="17.4" fill="#1c1c1c" text-anchor="start" font-family='"Liberation Serif", serif' textLength="38.57" lengthAdjust="spacingAndGlyphs">CLT:</text>
<text x="118.38" y="326.7" font-size="17.4" fill="#1c1c1c" text-anchor="start" font-family='"Liberation Serif", serif' textLength="76.19" lengthAdjust="spacingAndGlyphs">Reliability</text>
<text x="200.63" y="326.7" font-size="17.4" fill="#1c1c1c" text-anchor="start" font-family='"Liberation Serif", serif' textLength="60.46" lengthAdjust="spacingAndGlyphs">diagram</text>
<text x="415.76" y="326.8" font-size="17.4" fill="#1c1c1c" text-anchor="start" font-family='"Liberation Serif", serif' textLength="22.28" lengthAdjust="spacingAndGlyphs">(b)</text>
<text x="443.46" y="326.8" font-size="17.4" fill="#1c1c1c" text-anchor="start" font-family='"Liberation Serif", serif' textLength="39" lengthAdjust="spacingAndGlyphs">CLT:</text>
<text x="487.34" y="326.8" font-size="17.4" fill="#1c1c1c" text-anchor="start" font-family='"Liberation Serif", serif' textLength="58.62" lengthAdjust="spacingAndGlyphs">Isotonic</text>
<text x="551.65" y="326.8" font-size="17.4" fill="#1c1c1c" text-anchor="start" font-family='"Liberation Serif", serif' textLength="72.12" lengthAdjust="spacingAndGlyphs">regression</text>
<text x="630.26" y="326.8" font-size="17.4" fill="#1c1c1c" text-anchor="start" font-family='"Liberation Serif", serif' textLength="15.64" lengthAdjust="spacingAndGlyphs">fit</text>
<text x="53.09" y="700.8" font-size="17.4" fill="#1c1c1c" text-anchor="start" font-family='"Liberation Serif", serif' textLength="20.53" lengthAdjust="spacingAndGlyphs">(c)</text>
<text x="79.25" y="700.8" font-size="17.4" fill="#1c1c1c" text-anchor="start" font-family='"Liberation Serif", serif' textLength="27.49" lengthAdjust="spacingAndGlyphs">LP:</text>
<text x="111.68" y="700.8" font-size="17.4" fill="#1c1c1c" text-anchor="start" font-family='"Liberation Serif", serif' textLength="76.09" lengthAdjust="spacingAndGlyphs">Reliability</text>
<text x="194.53" y="700.8" font-size="17.4" fill="#1c1c1c" text-anchor="start" font-family='"Liberation Serif", serif' textLength="60.56" lengthAdjust="spacingAndGlyphs">diagram</text>
<text x="421.16" y="700.8" font-size="17.4" fill="#1c1c1c" text-anchor="start" font-family='"Liberation Serif", serif' textLength="22.39" lengthAdjust="spacingAndGlyphs">(d)</text>
<text x="449.15" y="700.8" font-size="17.4" fill="#1c1c1c" text-anchor="start" font-family='"Liberation Serif", serif' textLength="27.82" lengthAdjust="spacingAndGlyphs">LP:</text>
<text x="481.74" y="700.8" font-size="17.4" fill="#1c1c1c" text-anchor="start" font-family='"Liberation Serif", serif' textLength="58.62" lengthAdjust="spacingAndGlyphs">Isotonic</text>
<text x="546.05" y="700.8" font-size="17.4" fill="#1c1c1c" text-anchor="start" font-family='"Liberation Serif", serif' textLength="72.12" lengthAdjust="spacingAndGlyphs">regression</text>
<text x="624.66" y="700.8" font-size="17.4" fill="#1c1c1c" text-anchor="start" font-family='"Liberation Serif", serif' textLength="15.64" lengthAdjust="spacingAndGlyphs">fit</text>
</svg>
</body></html>
